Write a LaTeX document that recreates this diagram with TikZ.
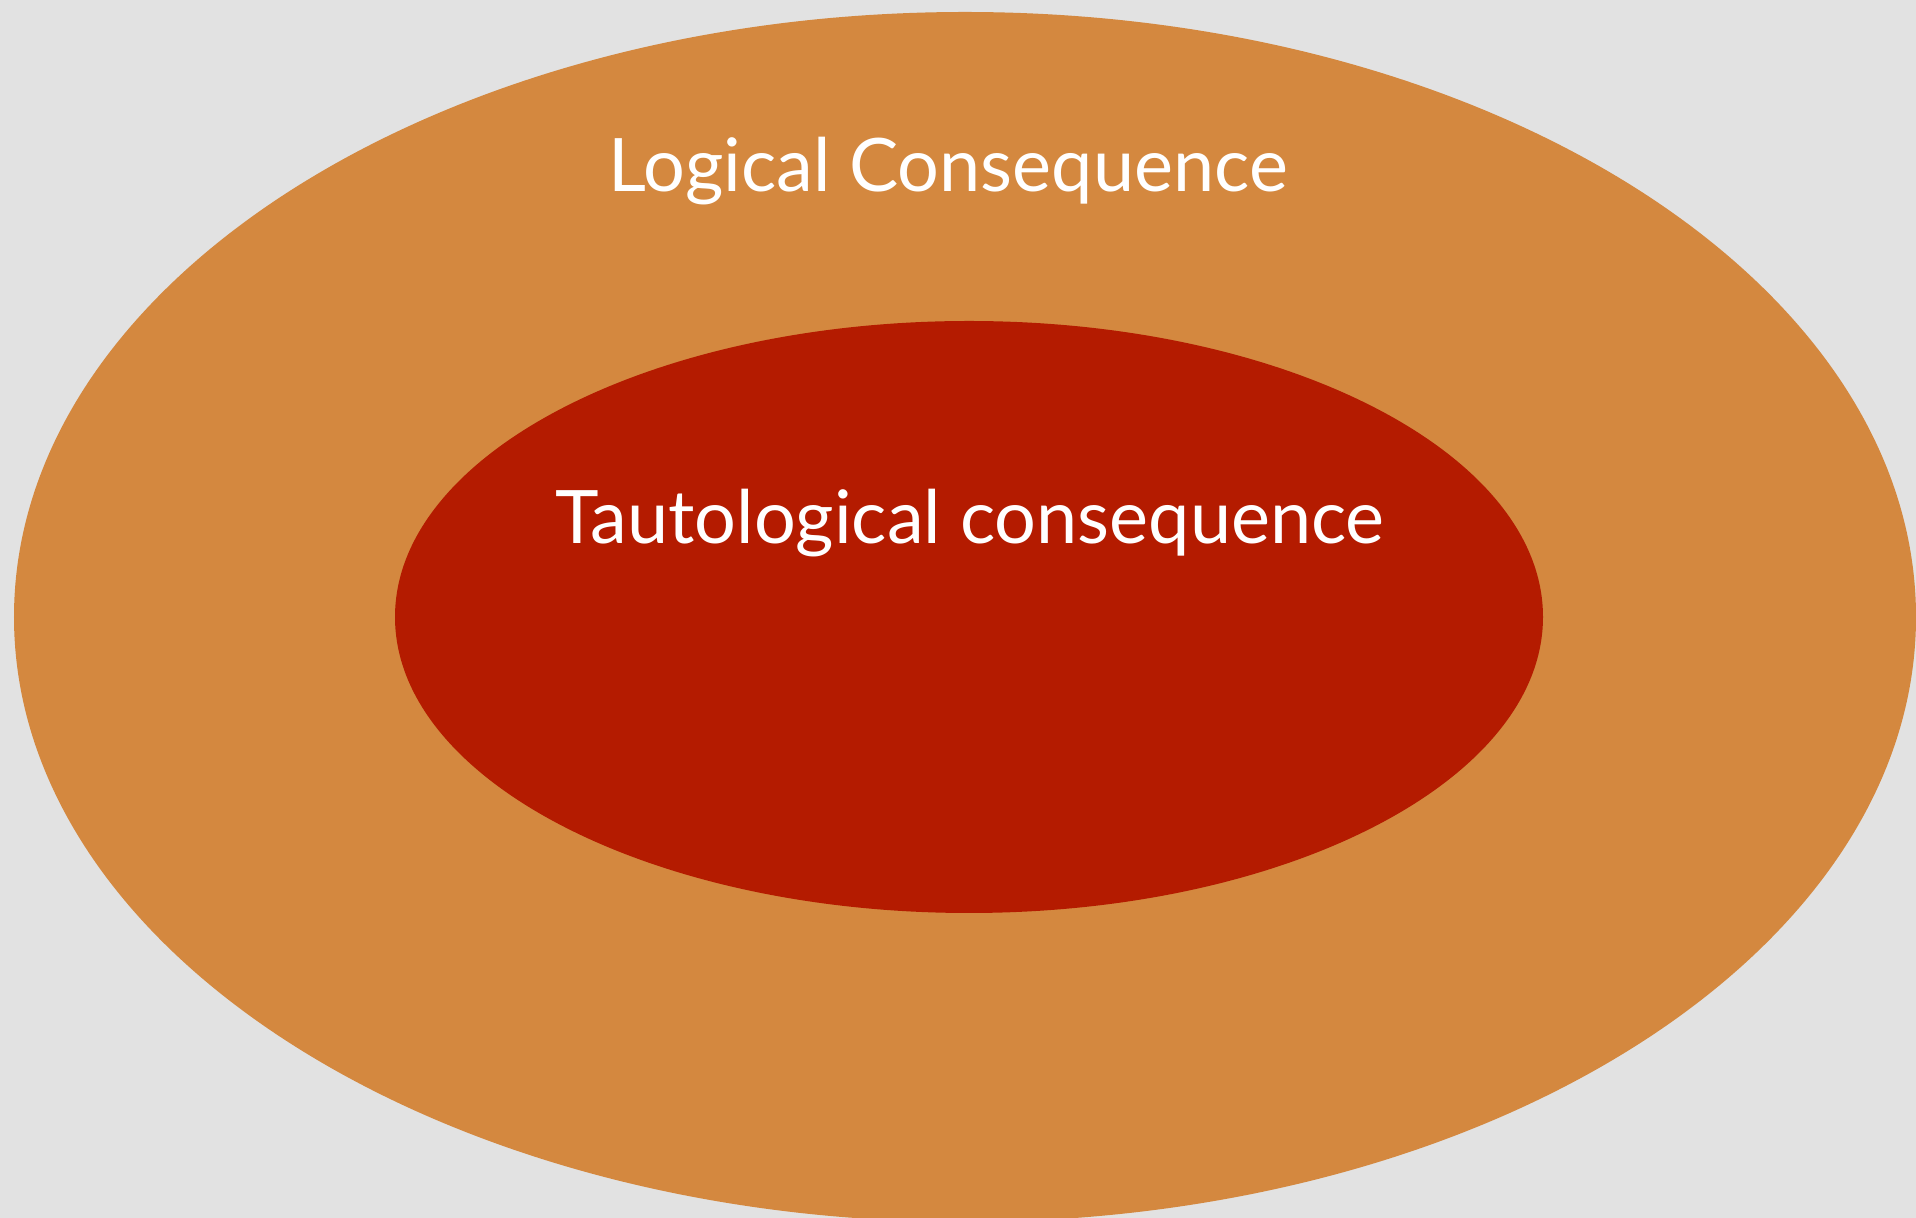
\documentclass[tikz,border=0pt]{standalone}
\usepackage{fontspec}
\setmainfont{Lato}
\usepackage{xcolor}
\usepackage{tikz}
\usetikzlibrary{shapes.geometric}
\definecolor{slideBack}{HTML}{E2E2E2}
\definecolor{outerSet}{HTML}{D4883F}
\definecolor{innerSet}{HTML}{B41B00}

\begin{document}
\begin{tikzpicture}[
  set/.style={ellipse, inner sep=0pt},
  label/.style={text=white, inner sep=0pt, anchor=base, font=\fontsize{21}{25}\selectfont}
]
\useasboundingbox (0,0) rectangle (19.16,12.18);
\clip (0,0) rectangle (19.16,12.18);
\fill[slideBack] (0,0) rectangle (19.16,12.18);

\node[set, fill=outerSet, minimum width=19.02cm, minimum height=12.1cm] (logical) at (9.65,6.01) {};
\node[set, fill=innerSet, minimum width=11.48cm, minimum height=5.92cm] (taut) at (9.69,6.01) {};

\node[label] (logicalText) at (9.48,10.26) {Logical Consequence};
\node[label] (tautText) at (9.70,6.74) {Tautological consequence};

\end{tikzpicture}
\end{document}
